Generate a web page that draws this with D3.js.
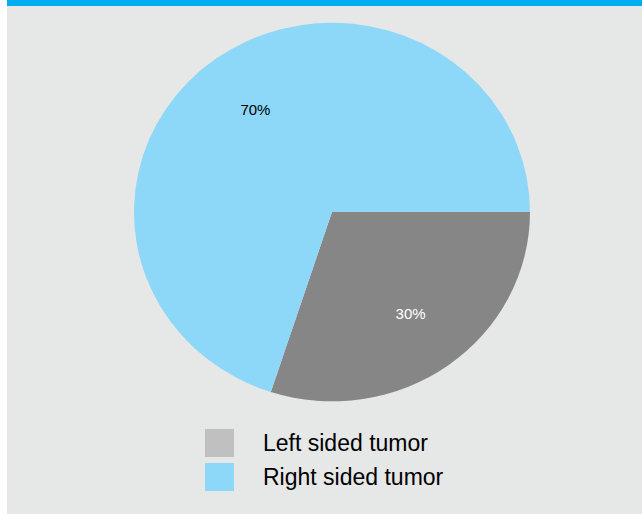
<!DOCTYPE html>
<html>
<head>
<meta charset="utf-8">
<script src="https://cdn.jsdelivr.net/npm/d3@7"></script>
<style>
  html, body { margin: 0; padding: 0; background: #ffffff; }
  svg { display: block; }
</style>
</head>
<body>
<div id="canvas"></div>
<script>
"use strict";

/* === Data === */
let categories = ["Left sided tumor", "Right sided tumor"];
let shares = [30, 70];
let sliceColors = ["#868686", "#8dd8f8"];
let legendColors = ["#c0c0c0", "#8dd8f8"];
let labelColors = ["#ffffff", "#000000"];

let svgWidth = 642;
let svgHeight = 514;

let cx = 332, cy = 212;
let radius = 198;
let yScaleFactor = 189.3 / 198; // pie is slightly squashed vertically

let svg = d3.select("#canvas")
  .append("svg")
  .attr("width", svgWidth)
  .attr("height", svgHeight);

/* === Background + top bar === */
svg.append("rect")
  .attr("x", 7).attr("y", 0)
  .attr("width", svgWidth - 7).attr("height", svgHeight)
  .attr("fill", "#e6e7e7");

svg.append("rect")
  .attr("x", 7).attr("y", 0)
  .attr("width", svgWidth - 7).attr("height", 6)
  .attr("fill", "#00aeef");

/* === Pie === */
let pieData = d3.pie()
  .sort(null)
  .startAngle(Math.PI / 2)
  .endAngle(Math.PI / 2 + 2 * Math.PI)(shares);

let arc = d3.arc().innerRadius(0).outerRadius(radius);
let labelArc = d3.arc().innerRadius(radius * 2 / 3).outerRadius(radius * 2 / 3);

let pieG = svg.append("g")
  .attr("transform", `translate(${cx}, ${cy}) scale(1, ${yScaleFactor})`);

pieG.selectAll("path")
  .data(pieData)
  .enter()
  .append("path")
  .attr("d", arc)
  .attr("fill", (d, i) => sliceColors[i]);

/* labels kept unscaled */
svg.selectAll("text.slice-label")
  .data(pieData)
  .enter()
  .append("text")
  .classed("slice-label", true)
  .attr("x", d => cx + labelArc.centroid(d)[0] + 1)
  .attr("y", d => cy + labelArc.centroid(d)[1] * yScaleFactor)
  .attr("dy", "0.35em")
  .attr("text-anchor", "middle")
  .attr("font-family", "Liberation Sans, Arial, sans-serif")
  .attr("font-size", "15px")
  .attr("fill", (d, i) => labelColors[i])
  .text(d => d.data + "%");

/* === Legend === */
let legend = svg.append("g")
  .attr("transform", "translate(205, 429)");

categories.forEach((c, i) => {
  legend.append("rect")
    .attr("x", 0)
    .attr("y", i * 34)
    .attr("width", 29)
    .attr("height", 28)
    .attr("fill", legendColors[i]);

  legend.append("text")
    .attr("x", 58)
    .attr("y", i * 34 + 22)
    .attr("font-family", "Liberation Sans, Arial, sans-serif")
    .attr("font-size", "23px")
    .attr("fill", "#000")
    .text(c);
});
</script>
</body>
</html>
